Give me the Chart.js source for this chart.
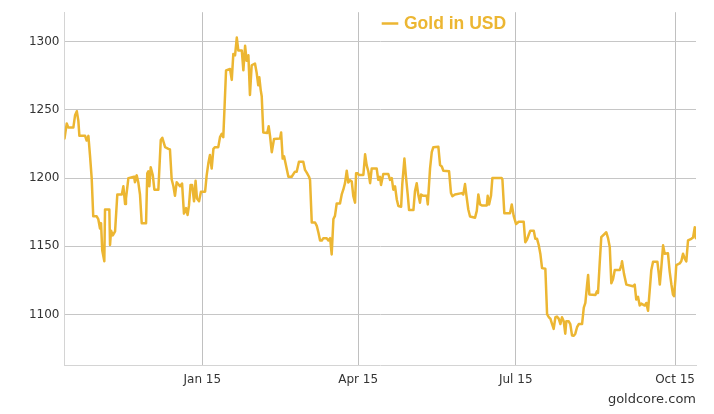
<!DOCTYPE html>
<html>
<head>
<meta charset="utf-8">
<script src="https://cdn.jsdelivr.net/npm/chart.js@4.4.1/dist/chart.umd.min.js"></script>
<style>
  html, body { margin: 0; padding: 0; background: #ffffff; }
  #wrap { width: 714px; height: 414px; }
</style>
</head>
<body>
<div id="wrap"><canvas id="c" width="714" height="414"></canvas></div>
<script>
// Days since 1 Jan 2015 (x) and gold price in USD (y)
const dayOffsets = [
  -79.6, -78.3, -77.4, -74.5, -73.5, -72.5, -71.6, -71.0, -67.7, -66.8, -65.8, -64.9, -63.9, -63.0,
  -61.0, -60.1, -59.1, -58.5, -57.8, -56.6, -56.2, -53.7, -53.3, -52.7, -51.7, -50.4, -49.1, -46.5,
  -45.6, -44.6, -44.1, -42.7, -39.4, -38.9, -37.9, -37.0, -36.0, -35.0, -32.5, -31.8, -31.2, -30.6,
  -29.8, -28.6, -27.7, -25.4, -24.0, -23.1, -21.5, -19.6, -18.7, -17.7, -16.7, -15.8, -14.8, -12.9,
  -11.7, -10.6, -9.4, -8.5, -7.7, -6.8, -5.9, -4.8, -3.9, -3.1, -1.9, -0.8, 1.6, 2.5, 3.5, 4.4, 5.4,
  6.4, 7.3, 9.2, 10.2, 11.2, 12.1, 12.7, 13.7, 16.0, 17.0, 17.9, 18.9, 19.9, 20.8, 22.8, 23.7, 24.7,
  25.6, 26.6, 27.5, 28.5, 30.4, 31.4, 32.3, 32.9, 33.7, 34.3, 35.2, 37.5, 38.3, 39.1, 40.1, 41.4,
  44.9, 45.5, 46.4, 47.2, 48.3, 49.7,
  51.6, 53.5, 54.5, 55.8, 58.3, 59.3, 60.3, 61.6, 62.2, 63.2, 65.1, 66.1, 67.0, 68.0, 69.0, 69.9,
  71.8, 72.8, 73.8, 74.7, 75.7, 76.6, 77.6, 79.5, 80.5, 81.4, 82.4, 83.4, 84.3, 85.3, 86.3, 87.2,
  88.2, 88.8, 89.7, 90.5, 93.0, 94.0, 94.9, 95.9, 96.9, 97.8, 100.7, 101.6, 102.6, 103.2, 104.5,
  107.4, 108.4, 109.4, 110.3, 111.3, 112.3, 113.2,
  114.8, 115.5, 116.7, 117.6, 118.6, 119.4, 121.9, 122.8, 123.8, 124.7, 125.7, 126.3, 127.6, 129.6,
  130.2, 131.5, 132.5, 133.4, 136.3, 137.3, 138.3, 139.2, 142.5, 143.6, 144.4, 145.9, 149.8, 150.7,
  151.7, 152.7, 153.6, 154.6, 157.5, 158.5, 159.4, 160.4, 161.4, 164.3, 164.8, 165.6, 166.7, 167.5,
  172.9, 173.3, 174.4, 177.7, 178.7,
  179.8, 181.2, 182.7, 185.6, 186.5, 187.5, 188.5, 189.4, 191.4, 192.3, 193.3, 194.3, 195.2, 196.2,
  198.1, 199.1, 200.1, 201.0, 202.0, 202.9, 203.9, 204.8, 205.8, 206.8, 207.7, 208.7, 209.6, 210.2,
  211.6, 212.5, 213.5, 214.5, 215.4, 216.4, 217.4, 219.3, 220.3, 221.2, 222.2, 222.8, 223.5, 227.0,
  227.9,
  228.5, 229.5, 230.4, 233.3, 234.3, 235.3, 236.2, 237.2, 238.2, 241.1, 242.0, 242.4, 243.5, 244.9,
  248.7, 249.7, 250.6, 251.6, 252.6, 253.5, 255.5, 256.4, 257.4, 258.4, 259.3, 260.3, 262.8, 263.6,
  264.2, 265.1, 266.1, 267.0, 268.9, 269.9, 270.9, 271.8, 272.4, 273.2, 273.7, 275.7, 276.6, 277.6,
  278.6, 279.5, 280.5, 282.4, 283.4, 284.4, 285.0
];
const goldPrices = [
  1229, 1240, 1237, 1237, 1246, 1249, 1242, 1231, 1231, 1227.5, 1231, 1217, 1200, 1172,
  1172, 1170, 1163, 1167, 1147, 1139, 1177, 1177, 1151, 1161.5, 1158, 1161, 1188, 1188,
  1194, 1181, 1185, 1200, 1201, 1197, 1202, 1197, 1188, 1167, 1167, 1203.5, 1205, 1194,
  1208, 1202, 1191.5, 1191.5, 1228, 1229.5, 1222.7, 1221.5, 1221, 1199, 1194, 1187, 1197, 1194,
  1196, 1174, 1178, 1173, 1180, 1195, 1195, 1183, 1198, 1185, 1183, 1190, 1190, 1202, 1211, 1217, 1207,
  1221.5, 1222.7, 1222.7, 1230, 1232.5, 1230, 1248, 1279, 1280, 1272, 1291, 1290, 1303, 1293.5, 1293.5, 1279, 1297,
  1286, 1290, 1261, 1282.7, 1284, 1277, 1268, 1274, 1264.7, 1260, 1233.5, 1233, 1238, 1231, 1219, 1228.7,
  1229, 1233.5, 1214.3, 1216, 1209.5, 1201,
  1201, 1204.7, 1204.7, 1212, 1212, 1206, 1204, 1201, 1198.7, 1167.5, 1167.5, 1165, 1160.3, 1154.3, 1154.3, 1156,
  1156, 1154.3, 1156, 1144, 1170, 1172.3, 1181.4, 1181.4, 1188, 1191.5, 1196.3, 1205.4, 1196.8, 1198.5, 1197.5, 1186.7,
  1182, 1203.5, 1203.5, 1202.3, 1202.3, 1217.4, 1209.5, 1204.7, 1196.3, 1207, 1207, 1198.7, 1201, 1195, 1203,
  1203, 1198.7, 1200, 1191.5, 1194, 1184.3, 1179.5,
  1179, 1196, 1214.3, 1201, 1188, 1176.6, 1176.6, 1190.3, 1196.3, 1188, 1182, 1188, 1187, 1187,
  1180.7, 1207, 1219, 1222.7, 1223, 1209.5, 1208.5, 1205.4, 1205, 1189, 1186.7, 1188, 1189, 1188,
  1195.6, 1185.5, 1177, 1171.8, 1171, 1176, 1188, 1180.7, 1180, 1180, 1187, 1180.7, 1187, 1200,
  1200, 1199, 1174.2, 1174.2, 1180.7,
  1172.3, 1166.3, 1168, 1168, 1153, 1155, 1158.5, 1161.5, 1161.5, 1155.5, 1155.5, 1150.8, 1144.6, 1134,
  1133.5, 1100.3, 1098, 1097, 1093, 1089.5, 1098, 1098.5, 1097, 1093, 1098, 1095, 1086, 1095,
  1095, 1093, 1084.7, 1084.5, 1086, 1090.7, 1093, 1093, 1105, 1108.5, 1122, 1129, 1114.7, 1114.3,
  1117,
  1115.8, 1138, 1156.7, 1160.3, 1156, 1149.5, 1123, 1126, 1132.7, 1132.7, 1136.3, 1139, 1130, 1121.9,
  1120.7, 1122, 1111, 1113, 1106.6, 1108, 1106.6, 1108.5, 1102.7, 1118.3, 1132.7, 1138.7, 1138.7, 1130,
  1122, 1135, 1150.7, 1144.6, 1145, 1131.5, 1122, 1114.7, 1113.5, 1125.5, 1136.3, 1137.5, 1139, 1144.6,
  1141, 1139, 1154.3, 1155.5, 1156.5, 1164, 1156
];
const xTickDays = [0, 90, 181, 273];
const xTickLabels = ['Jan 15', 'Apr 15', 'Jul 15', 'Oct 15'];
const yTickValues = [1100, 1150, 1200, 1250, 1300];
const seriesLabel = 'Gold in USD';
const creditText = 'goldcore.com';

const GOLD = '#ECB632';
Chart.defaults.font.family = '"DejaVu Sans", Verdana, sans-serif';

const topLegend = {
  id: 'topLegend',
  afterDatasetsDraw(chart) {
    const { ctx, chartArea } = chart;
    const ds = chart.data.datasets[0];
    const x0 = chartArea.left + 317.2;
    const y = chartArea.top + 11.3;
    ctx.save();
    ctx.strokeStyle = ds.borderColor;
    ctx.lineWidth = 2.5;
    ctx.beginPath();
    ctx.moveTo(x0, y);
    ctx.lineTo(x0 + 16.6, y);
    ctx.stroke();
    ctx.fillStyle = ds.borderColor;
    ctx.font = 'bold 17.5px "Liberation Sans", Arial, sans-serif';
    ctx.textBaseline = 'middle';
    ctx.textAlign = 'left';
    ctx.fillText(ds.label, x0 + 22.3, y + 0.5);
    ctx.restore();
  }
};

new Chart(document.getElementById('c'), {
  type: 'line',
  data: {
    datasets: [{
      label: seriesLabel,
      data: dayOffsets.map((d, i) => ({ x: d, y: goldPrices[i] })),
      borderColor: GOLD,
      backgroundColor: GOLD,
      borderWidth: 2.5,
      borderJoinStyle: 'round',
      borderCapStyle: 'round',
      pointRadius: 0,
      tension: 0,
      fill: false
    }]
  },
  options: {
    responsive: false,
    animation: false,
    layout: { padding: { left: 0, right: 18, top: 6, bottom: 6.5 } },
    plugins: {
      legend: { display: false },
      tooltip: { enabled: false },
      title: {
        display: true,
        position: 'bottom',
        align: 'end',
        text: creditText,
        color: '#333333',
        font: { size: 13, weight: 'normal' },
        padding: { top: 0, bottom: 0 }
      }
    },
    scales: {
      x: {
        type: 'linear',
        min: -79.6,
        max: 285.1,
        afterBuildTicks: (s) => { s.ticks = xTickDays.map(v => ({ value: v })); },
        afterFit: (s) => { s.height = 26.2; },
        ticks: {
          callback: (v) => xTickLabels[xTickDays.indexOf(v)],
          padding: 7,
          color: '#333333',
          font: { size: 12 },
          maxRotation: 0,
          autoSkip: false
        },
        grid: { color: '#c0c0c0', drawTicks: false },
        border: { color: '#d4d4d4' }
      },
      y: {
        min: 1062.5,
        max: 1321.6,
        afterBuildTicks: (s) => { s.ticks = yTickValues.map(v => ({ value: v })); },
        afterFit: (s) => { s.width = 64.5; },
        ticks: {
          callback: (v) => String(v),
          padding: 5,
          color: '#333333',
          font: { size: 12 }
        },
        grid: { color: '#c6c6c6', drawTicks: false },
        border: { color: '#d4d4d4' }
      }
    }
  },
  plugins: [topLegend]
});
</script>
</body>
</html>
